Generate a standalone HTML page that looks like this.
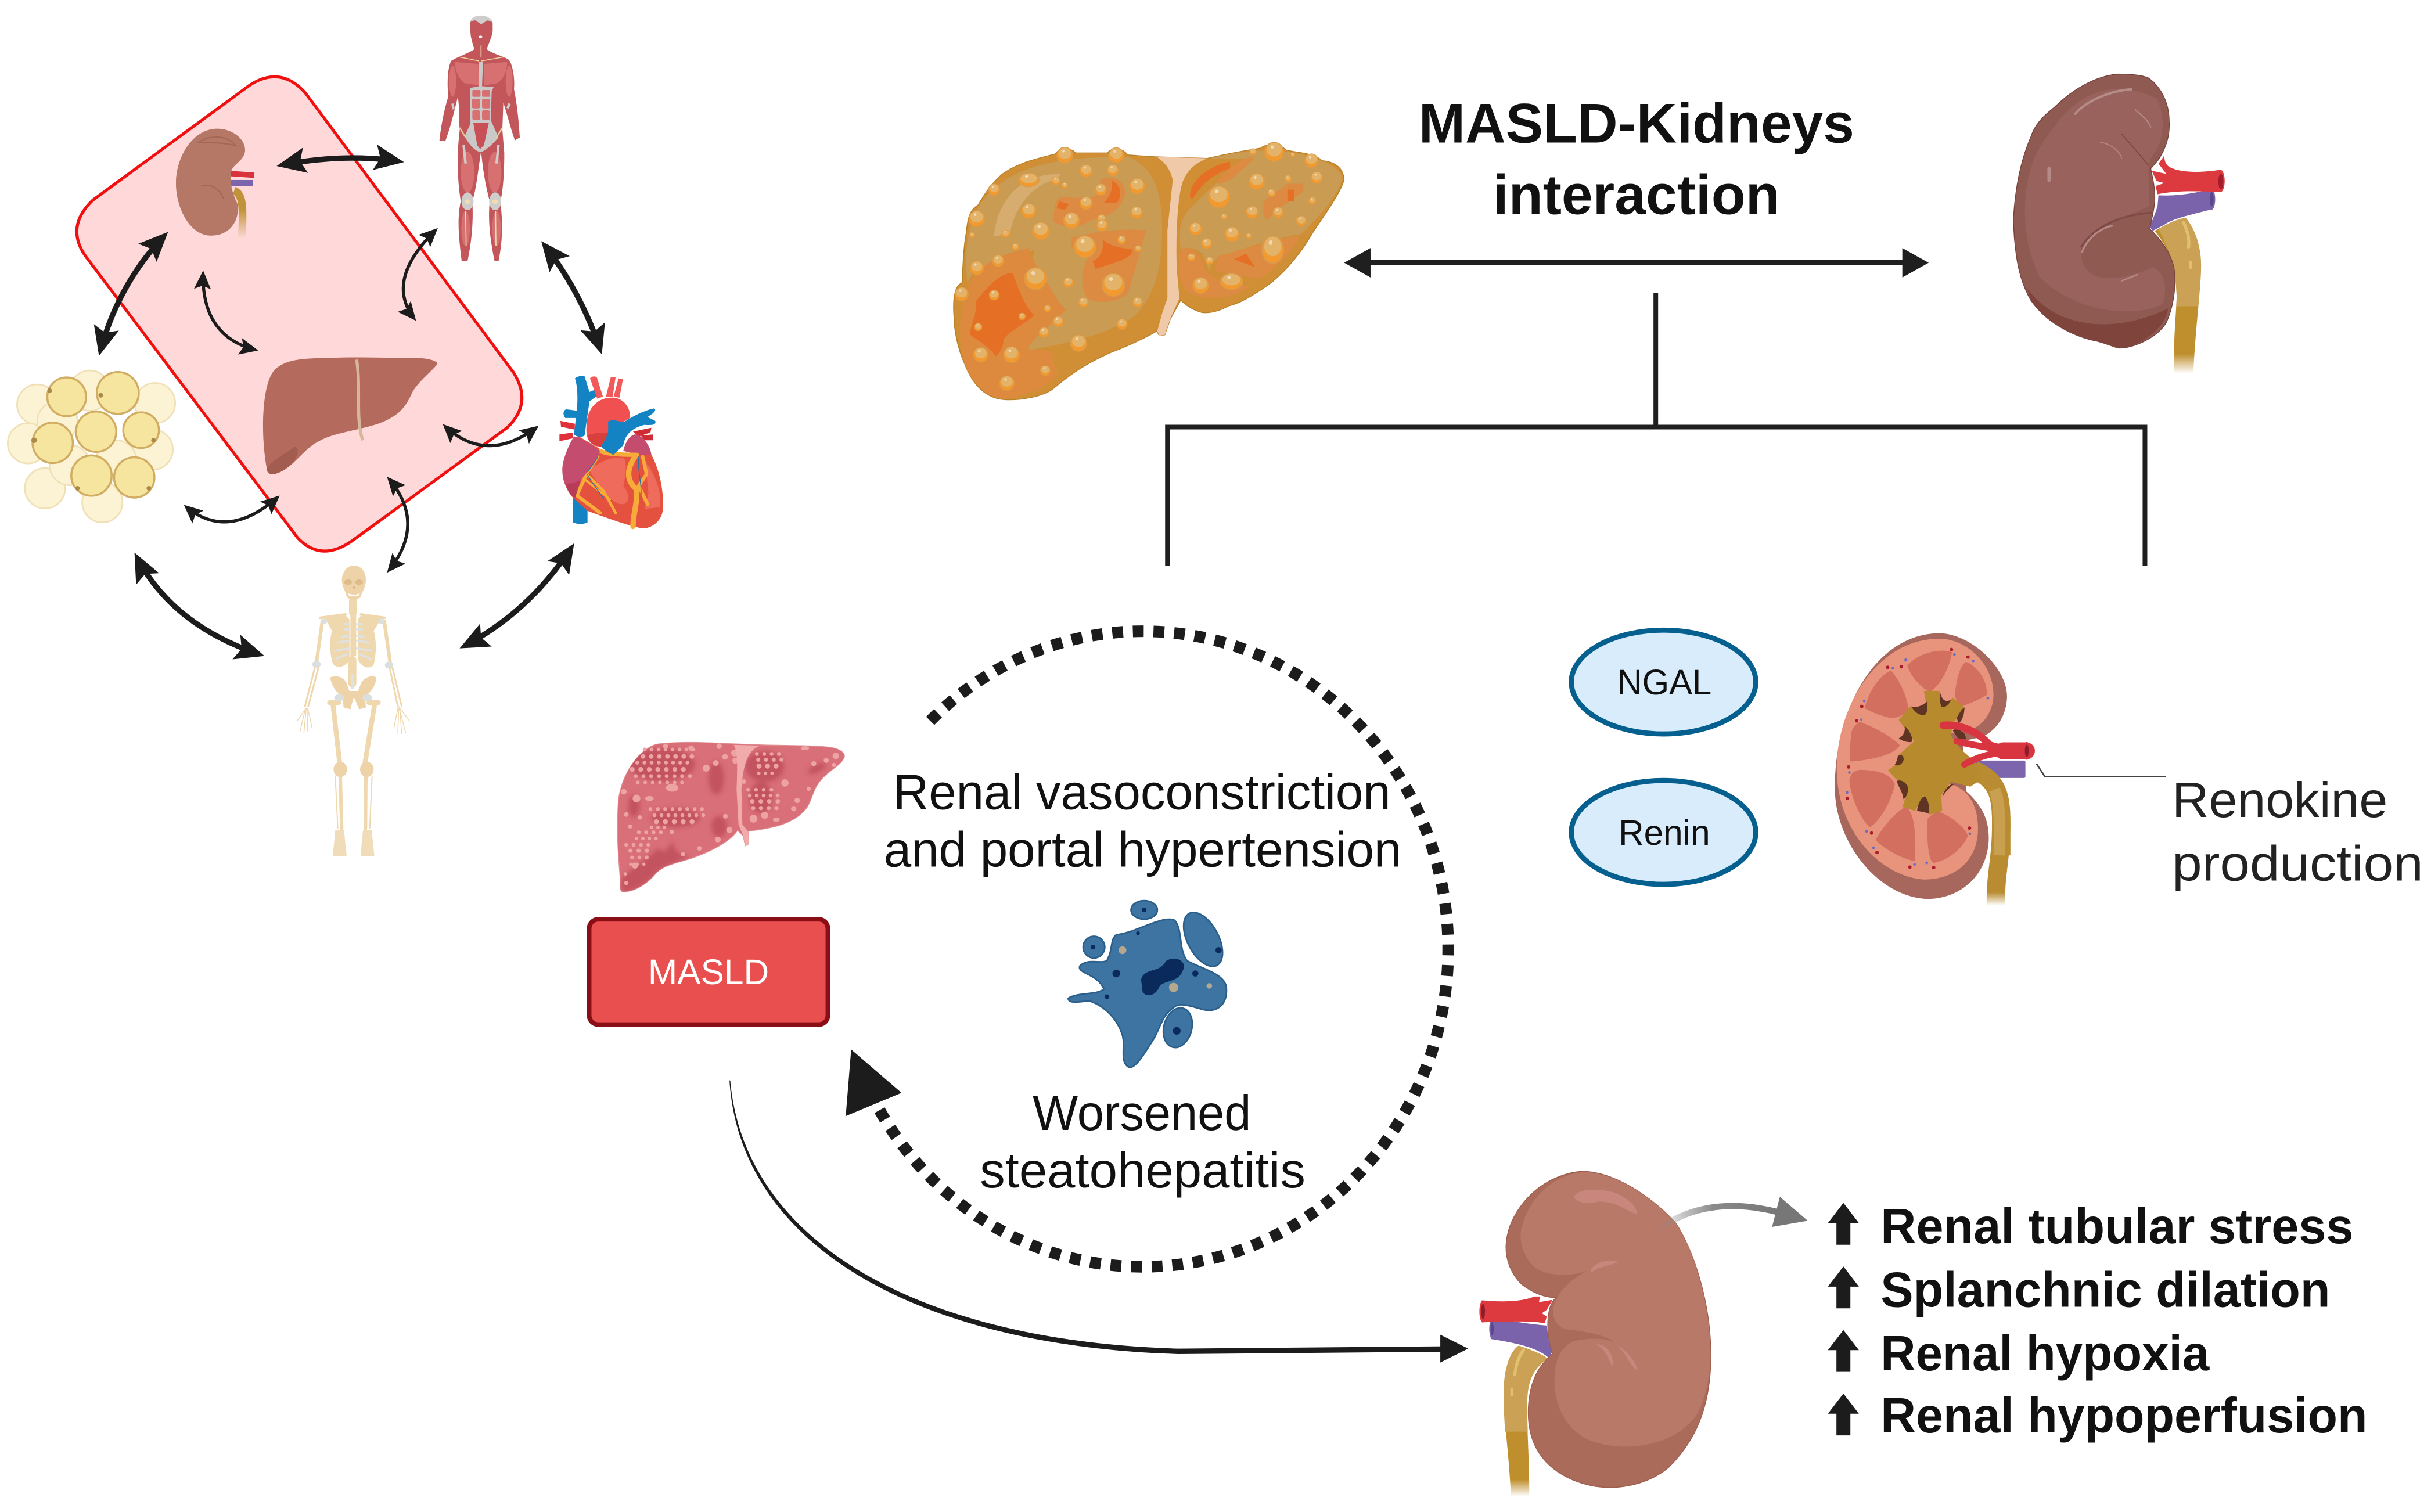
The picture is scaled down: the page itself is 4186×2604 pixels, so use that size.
<!DOCTYPE html>
<html><head><meta charset="utf-8"><title>MASLD-Kidneys interaction</title>
<style>
html,body{margin:0;padding:0;background:#fff}
svg{display:block}
text{font-family:"Liberation Sans",Arial,sans-serif;fill:#111}
.a{fill:none;stroke:#1c1c1c;stroke-dasharray:0 6 88 100}
.b{stroke-width:3.5;marker-start:url(#mb);marker-end:url(#mb)}
.s{stroke-width:2;marker-start:url(#ms);marker-end:url(#ms)}
.pale circle{fill:#fbf3d3;stroke:#efe0b6;stroke-width:1}
.yel circle{fill:#f6e59e;stroke:#d1ac63;stroke-width:1.3}
.py path{fill:#d26f5e}
</style></head><body>
<svg xmlns="http://www.w3.org/2000/svg" width="4186" height="2604" viewBox="0 0 1568 975.4">
<defs>
<marker id="mb" viewBox="0 0 16 16" refX="15.5" refY="8" markerWidth="19" markerHeight="19" markerUnits="userSpaceOnUse" orient="auto-start-reverse"><path d="M0,1 L16,8 L0,15 L3,8Z" fill="#1c1c1c"/></marker>
<marker id="ms" viewBox="0 0 11 11" refX="10.5" refY="5.5" markerWidth="12" markerHeight="12" markerUnits="userSpaceOnUse" orient="auto-start-reverse"><path d="M0,0.5 L11,5.5 L0,10.5 L2,5.5Z" fill="#1c1c1c"/></marker>
<linearGradient id="gr" gradientUnits="userSpaceOnUse" x1="1068" y1="794" x2="1145" y2="782"><stop offset="0" stop-color="#888" stop-opacity="0"/><stop offset=".5" stop-color="#8a8a8a"/><stop offset="1" stop-color="#777"/></linearGradient>
<linearGradient id="u1" gradientUnits="userSpaceOnUse" x1="0" y1="1200" x2="0" y2="1520"><stop offset="0" stop-color="#bf8f2e"/><stop offset=".7" stop-color="#bf8f2e"/><stop offset="1" stop-color="#bf8f2e" stop-opacity="0"/></linearGradient>
<linearGradient id="u2" gradientUnits="userSpaceOnUse" x1="0" y1="1200" x2="0" y2="1500"><stop offset="0" stop-color="#bf8f2e"/><stop offset=".75" stop-color="#bf8f2e"/><stop offset="1" stop-color="#bf8f2e" stop-opacity="0"/></linearGradient>
<linearGradient id="u3" gradientUnits="userSpaceOnUse" x1="0" y1="135" x2="0" y2="154"><stop offset="0" stop-color="#c0923a"/><stop offset="1" stop-color="#c0923a" stop-opacity="0"/></linearGradient>
<linearGradient id="u4" gradientUnits="userSpaceOnUse" x1="0" y1="1300" x2="0" y2="1530"><stop offset="0" stop-color="#b98c32"/><stop offset=".7" stop-color="#b98c32"/><stop offset="1" stop-color="#b98c32" stop-opacity="0"/></linearGradient>
<filter id="bl" x="-20%" y="-20%" width="140%" height="140%"><feGaussianBlur stdDeviation="12"/></filter>
<g id="bb"><g transform="scale(.85 1.17)"><circle r="50" fill="#f39a2e" stroke="#d99a4b" stroke-width="5"/><ellipse cy="-12" rx="40" ry="36" fill="#e2b369"/><circle cx="-10" cy="-26" r="9" fill="#f2d8b0"/></g></g>
</defs>

<!-- red rounded box -->
<path d="M60,129 L161,55 Q181,42 197,60 L331,240 Q344,260 327,276 L227,349 Q207,363 192,347 L55,165 Q42,146 60,129Z" fill="#ffd9d9" stroke="#f01010" stroke-width="1.9"/>

<!-- small kidney -->
<path d="M149,112 L164,113" stroke="#d8323d" stroke-width="3.500" fill="none"/>
<path d="M149,118 L163,118" stroke="#7c65ac" stroke-width="3.800" fill="none"/>
<path d="M151,123 C157,125 157,135 156,154" stroke="url(#u3)" stroke-width="5" fill="none"/>
<path d="M140,83 C150,83 159,90 158,98 C157,104 150,106 149,111 C148,118 150,125 153,131 C155,140 150,152 136,152 C122,152 113,133 113.500,117 C114,100 125,83 140,83Z" fill="#b57766"/>
<path d="M128,92 C136,86 148,88 152,94 C145,92 135,92 128,92Z M130,120 C136,118 142,122 144,128" stroke="#a66655" stroke-width=".8" fill="none"/>

<!-- small liver -->
<path d="M172,302 C168,280 169,250 176,240 C182,232 195,231 210,231 C230,230 250,231 270,231 C276,231 283,233 282,235 C278,240 270,246 266,253 C262,262 258,268 245,273 C230,278 215,279 205,285 C195,290 188,304 176,306 C173,306 172,304 172,302Z" fill="#b46b5d"/>
<path d="M230,232 C233,250 229,270 234,284" stroke="#d8b69a" stroke-width="2" fill="none"/>
<path d="M172,302 C176,296 186,292 190,288 C196,290 188,304 176,306 C173,306 172,304 172,302Z" fill="#a25c50"/>

<!-- muscle man -->
<g transform="translate(273.45,3.75) scale(.12486)">
<path d="M240,90 C240,50 350,50 355,90 L355,130 C350,170 330,200 325,225 C360,250 410,260 440,280 C460,310 470,380 465,430 C480,500 490,600 495,680 L470,695 C450,640 430,560 410,500 L405,640 L415,760 C415,850 410,950 395,1010 C405,1100 410,1200 385,1320 L365,1320 C340,1200 330,1100 340,1010 C310,900 300,800 295,750 C280,850 270,950 250,1010 C255,1100 250,1200 225,1320 L195,1320 C180,1200 170,1100 190,1010 C170,880 170,760 185,640 C180,600 185,530 175,470 C160,530 140,620 110,700 L80,695 C90,600 110,520 125,470 C120,400 120,330 140,285 C170,265 220,250 260,225 C255,200 240,170 240,130Z" fill="#c2565a"/>
<path d="M240,80 C250,40 340,40 355,85 L330,75 L295,95 L265,75Z" fill="#cfcccc"/>
<path d="M285,290 L305,290 L300,415 L360,420 L350,440 L345,590 L385,680 C340,730 310,755 290,755 C260,750 230,710 210,675 L240,610 L240,430 L235,425 L285,415Z" fill="#cbc8c8"/>
<g fill="#d87072"><rect x="248" y="480" width="42" height="50" rx="8"/><rect x="300" y="480" width="42" height="50" rx="8"/><rect x="250" y="540" width="40" height="50" rx="8"/><rect x="300" y="540" width="40" height="50" rx="8"/><rect x="250" y="435" width="42" height="35" rx="6"/><rect x="300" y="435" width="42" height="35" rx="6"/></g>
<path d="M255,605 L335,605 L310,720 L290,740 L275,720Z" fill="#c84f55"/>
<g fill="#d67071"><path d="M160,290 L280,300 L285,410 L210,400 C170,370 160,320 160,290Z"/><path d="M310,300 L430,290 C430,320 420,370 380,400 L310,410Z"/><ellipse cx="225" cy="860" rx="35" ry="105"/><ellipse cx="365" cy="860" rx="35" ry="105"/><ellipse cx="215" cy="1150" rx="22" ry="90"/><ellipse cx="375" cy="1150" rx="22" ry="90"/><ellipse cx="148" cy="390" rx="18" ry="80"/><ellipse cx="440" cy="390" rx="18" ry="80"/></g>
<path d="M185,265 L285,285 M295,285 L410,265" stroke="#eed09a" stroke-width="5" fill="none"/>
<path d="M185,630 L215,680 M405,630 L375,680" stroke="#eed09a" stroke-width="7" fill="none"/>
<path d="M205,720 L215,815 M385,720 L375,815 M148,505 L152,535 M442,505 L432,530" stroke="#cfcccc" stroke-width="13" fill="none"/>
<ellipse cx="225" cy="1010" rx="31" ry="46" fill="#cfcccc"/><ellipse cx="368" cy="1010" rx="31" ry="46" fill="#cfcccc"/>
<ellipse cx="225" cy="1012" rx="15" ry="12" fill="#f0dcae"/><ellipse cx="368" cy="1012" rx="15" ry="12" fill="#f0dcae"/>
<path d="M215,1060 L218,1240 M370,1060 L372,1240 M295,205 V265" stroke="#f0dcae" stroke-width="5" fill="none"/>
<ellipse cx="292" cy="160" rx="10" ry="6" fill="#fff"/>
</g>

<!-- fat -->
<g class="pale"><circle cx="24" cy="261" r="13"/><circle cx="58" cy="252" r="13"/><circle cx="100" cy="260" r="13"/><circle cx="18" cy="286" r="13"/><circle cx="98.500" cy="290" r="13"/><circle cx="29" cy="315" r="13"/><circle cx="66" cy="324" r="13"/><circle cx="45" cy="300" r="13"/><circle cx="37" cy="272" r="13"/><circle cx="75" cy="297" r="13"/></g>
<g class="yel"><circle cx="43" cy="256" r="12.500"/><circle cx="76" cy="253.500" r="13.500"/><circle cx="62" cy="278.500" r="13"/><circle cx="91" cy="277.500" r="11.500"/><circle cx="34" cy="285.700" r="13"/><circle cx="59" cy="306.800" r="13"/><circle cx="86.600" cy="308" r="13"/></g>
<g fill="#a98a4a"><circle cx="22" cy="284" r="1.800"/><circle cx="32" cy="252" r="1.500"/><circle cx="65" cy="255" r="1.500"/><circle cx="99" cy="284" r="1.500"/><circle cx="50" cy="315" r="1.500"/><circle cx="96" cy="315" r="1.500"/></g>

<!-- heart -->
<g transform="translate(352.1,232.2) scale(.12486)">
<path d="M140,700 h75 v140 q-35,15 -75,0Z" fill="#1483c4"/>
<path d="M150,95 C170,80 195,80 200,85 L225,165 L250,155 L265,185 L225,215 L200,390 C190,400 160,400 145,385 L155,300 L100,300 C85,280 90,260 105,255 L160,262 C165,200 165,140 150,95Z" fill="#1483c4"/>
<g fill="#e0313a"><path d="M75,315 L150,330 L148,360 L78,345Z"/><path d="M70,385 L140,375 L140,405 L70,420Z"/></g>
<g fill="#f2595a"><path d="M228,95 C240,80 265,85 265,95 L295,190 L265,200Z"/><path d="M335,90 L360,90 L345,190 L310,190Z"/><path d="M375,95 L398,100 L380,195 L350,190Z"/></g>
<g fill="#d02c34"><path d="M450,370 L545,350 L540,375 L480,395Z"/><path d="M490,390 L555,385 L555,415 L510,415Z"/></g>
<path d="M210,340 C210,250 270,190 350,195 C410,200 440,260 435,300 L350,350 L320,380 L300,450 L260,445 C220,430 205,400 210,340Z" fill="#f0504f"/>
<path d="M215,390 C240,380 290,370 320,380 L300,450 L260,445 C235,435 220,420 215,390Z" fill="#d8403d"/>
<path d="M400,470 C410,420 440,380 470,385 C510,400 540,450 545,490 L500,495 L440,480Z" fill="#c44d6f"/>
<path d="M85,560 C90,490 130,420 170,395 L280,460 L350,490 L500,490 L545,490 C590,570 610,690 605,770 C600,830 550,870 500,870 C430,860 300,810 215,780 L150,720 C110,690 85,620 85,560Z" fill="#e4513f"/>
<path d="M225,570 C280,520 370,490 405,510 C420,540 410,610 400,650 C430,690 440,730 400,745 C360,750 330,710 300,680 C270,640 240,600 225,570Z" fill="#ef6c5c"/>
<path d="M515,530 C560,580 600,680 590,760 L510,770 L530,690 L520,590Z" fill="#ef6c5c"/>
<g fill="none" stroke="#f7ac3a" stroke-linecap="round"><path d="M280,470 C300,480 330,490 470,490" stroke-width="22"/><path d="M270,500 L210,590 L300,680 L360,790" stroke-width="14"/><path d="M205,600 L160,700 L280,790" stroke-width="18"/><path d="M205,620 L330,720" stroke-width="12"/><path d="M460,500 C420,560 410,620 470,670 C470,760 450,800 450,860" stroke-width="28"/><path d="M500,500 L520,590 L480,650 L525,745" stroke-width="18"/></g>
<path d="M85,570 C90,490 130,420 145,395 C180,400 240,440 280,470 C260,540 200,590 180,620 L150,715 C110,680 85,630 85,570Z" fill="#c44d6f"/>
<path d="M105,640 C130,640 160,630 180,620 L150,715 C125,695 110,670 105,640Z" fill="#b83c58"/>
<path d="M215,590 C220,610 260,660 300,720 M480,500 C470,560 500,650 490,720 M270,500 L215,580" stroke="#2e6fa8" stroke-width="4" fill="none"/>
<path d="M320,320 C345,300 370,320 405,320 C450,290 510,260 560,250 C570,260 565,270 525,295 L565,315 C570,330 560,340 510,335 C450,350 410,380 400,440 L350,490 C320,480 295,460 285,445 C300,420 330,390 320,320Z" fill="#1483c4"/>
</g>

<!-- skeleton -->
<g transform="translate(179.8,359.6) scale(.12486)">
<g fill="none" stroke="#efd7ae" stroke-linecap="round">
<path d="M383,225 V285" stroke-width="40" stroke-dasharray="12 6"/>
<path d="M380,530 V650" stroke-width="42" stroke-dasharray="16 6"/>
<path d="M215,312 L345,295 M425,295 L545,312" stroke-width="14"/>
<path d="M225,330 L195,540 M545,330 L575,540" stroke-width="18"/>
<path d="M190,555 L135,770 M205,570 L152,770 M570,555 L615,770 M585,560 L635,770" stroke-width="9"/>
<path d="M140,780 L95,845 M138,780 L110,900 M142,780 L130,905 M146,780 L150,900 M150,780 L172,880 M620,770 L675,845 M622,775 L655,905 M625,780 L635,910 M620,780 L615,905 M615,780 L595,880" stroke-width="4.500"/>
<path d="M280,760 L315,1065 M495,760 L445,1065" stroke-width="25"/>
<path d="M318,1130 L325,1400 M450,1130 L448,1400" stroke-width="18"/>
<path d="M292,1130 L305,1400 M482,1130 L470,1400" stroke-width="6"/>
<path d="M262,750 L310,750 M465,750 L515,750" stroke-width="24"/>
</g>
<path d="M388,42 C430,42 452,80 450,120 C448,160 430,175 425,200 C415,225 360,225 350,200 C345,170 328,160 326,120 C325,80 350,42 388,42Z" fill="#eed3a8"/>
<g fill="#ddbb8a"><ellipse cx="358" cy="128" rx="20" ry="14"/><ellipse cx="415" cy="128" rx="20" ry="14"/><ellipse cx="388" cy="155" rx="6" ry="8"/></g>
<path d="M355,185 C380,195 400,195 420,185 L410,200 L365,200Z" fill="#fff"/>
<path d="M240,315 L345,300 L365,320 L365,530 C340,570 300,575 280,550 C262,500 262,420 275,380Z" fill="#efd7ae"/>
<path d="M530,315 L425,300 L410,320 L410,530 C430,570 470,580 490,555 C505,500 505,420 490,380Z" fill="#efd7ae"/>
<path d="M370,300 h30 v210 h-30Z" fill="#efd7ae"/>
<g fill="none" stroke="#dfe2e2" stroke-width="11" stroke-linecap="round"><path d="M340,345 L365,345 M340,372 L365,372 M328,410 L365,405 M305,440 L365,430 M290,482 L365,470 M295,525 L350,500 M430,345 L405,345 M430,372 L405,372 M442,410 L405,405 M465,440 L405,430 M480,482 L405,470 M475,525 L420,500"/></g>
<path d="M265,620 C300,605 340,620 350,650 L365,690 L410,690 L425,650 C440,620 480,605 505,620 C500,670 470,700 445,720 L450,775 L415,785 L388,720 L370,785 L335,775 L330,720 C300,700 275,670 265,620Z" fill="#eed3a8"/>
<path d="M380,600 V680" stroke="#dfe2e2" stroke-width="14"/>
<g fill="#dcdfe0"><ellipse cx="312" cy="725" rx="25" ry="18"/><ellipse cx="458" cy="725" rx="25" ry="18"/><ellipse cx="195" cy="552" rx="22" ry="18"/><ellipse cx="570" cy="556" rx="22" ry="18"/><ellipse cx="235" cy="330" rx="16" ry="14"/><ellipse cx="530" cy="330" rx="16" ry="14"/></g>
<g fill="#eed3a8"><ellipse cx="318" cy="1095" rx="35" ry="40"/><ellipse cx="455" cy="1095" rx="35" ry="40"/></g>
<g fill="#efd7ae" opacity=".85"><path d="M292,1410 h45 l14,135 h-72Z"/><path d="M435,1410 h45 l14,135 h-72Z"/></g>
</g>

<!-- arrows left -->
<path class="a b" pathLength="100" d="M179,107 Q222.500,98.250 260,104.500"/>
<path class="a b" pathLength="100" d="M108,150 Q76,182.500 64,229"/>
<path class="a b" pathLength="100" d="M349.500,156 Q375,188 388,228"/>
<path class="a b" pathLength="100" d="M370,351 Q341.500,395.500 297,418"/>
<path class="a b" pathLength="100" d="M87,357 Q110.500,404 170,423"/>
<path class="a s" pathLength="100" d="M131,175 Q129.500,217.500 166,226"/>
<path class="a s" pathLength="100" d="M282,147.500 Q247,181 268,206.500"/>
<path class="a s" pathLength="100" d="M286,274 Q313.500,300.500 347,275"/>
<path class="a s" pathLength="100" d="M119,326 Q146.500,350 180,320"/>
<path class="a s" pathLength="100" d="M250,308 Q276,337.500 250,369"/>

<!-- fatty liver -->
<g transform="translate(606.8,86.15) scale(.172,.12486)">
<path d="M240,1375 C170,1370 120,1300 90,1190 C60,1100 50,1000 50,950 C45,860 50,790 80,770 C85,650 85,600 95,520 C100,470 100,400 140,370 C170,300 190,260 230,210 C290,150 360,130 430,105 C440,75 490,70 505,100 C570,100 620,100 625,100 C640,70 680,70 700,110 C750,115 800,120 810,120 L1000,128 C1070,105 1130,90 1200,75 C1220,50 1270,50 1295,85 C1340,100 1400,100 1430,140 C1480,145 1510,180 1512,240 C1500,300 1450,400 1400,500 C1350,620 1300,700 1240,770 C1180,830 1120,880 1080,890 C1050,915 1010,930 980,925 C950,915 920,890 900,860 L860,960 L840,1040 L820,1045 L810,1020 C790,1040 700,1100 640,1130 C540,1190 480,1250 420,1320 C380,1360 300,1380 240,1375Z" fill="#d08f35" stroke="#b98027" stroke-width="4"/>
<path d="M150,360 C250,180 400,120 700,120 C800,170 830,300 830,500 C830,700 800,850 720,950 C600,1050 480,1080 330,1120 C330,1000 420,900 460,900 C400,800 330,700 350,600 C300,640 200,640 120,720 L100,770 C90,650 90,500 150,360Z" fill="#c99b53"/>
<path d="M200,530 C210,350 300,200 450,210 L430,240 C340,260 270,400 260,520Z" fill="#d9b277" opacity=".8"/>
<path d="M100,800 C150,650 250,620 330,590 L340,650 C380,700 420,850 470,910 C420,980 350,1050 320,1120 C420,1110 430,1130 420,1180 L440,1240 C400,1300 350,1350 240,1370 C170,1360 120,1300 90,1190 C70,1100 60,950 100,800Z" fill="#dd8a3f"/>
<path d="M130,870 C170,800 220,720 270,720 C290,800 310,880 350,940 C300,1000 230,1040 235,1080 C230,1120 210,1150 205,1150 C180,1100 140,1070 110,1040 C110,990 140,920 130,870Z" fill="#e56f25"/>
<path d="M490,540 C580,500 700,490 770,500 C750,600 730,700 700,830 C650,880 580,880 550,850 C520,790 530,700 550,640 C510,620 480,590 490,540Z" fill="#dd8a42"/>
<path d="M610,550 C640,590 690,590 720,600 C720,650 640,670 580,700 L570,660 C600,640 610,600 610,550Z" fill="#e56f25"/>
<path d="M600,240 C650,200 700,260 690,320 C680,380 640,430 560,450 C520,490 450,490 420,450 C430,400 420,350 450,330 C500,330 560,340 580,320 C600,300 590,270 600,240Z" fill="#dd8a42"/>
<path d="M640,240 C680,270 680,320 660,360 L610,360 C630,330 650,290 640,240Z M445,350 l35,15 l-15,30 l-30,-10Z" fill="#e56f25"/>
<path d="M1010,130 C1080,100 1200,80 1280,90 C1400,110 1500,170 1505,230 C1490,320 1420,430 1350,520 C1300,530 1180,570 1080,620 C1030,640 1000,680 1010,720 L980,620 C950,580 910,590 900,600 C890,500 900,430 940,380 C1000,300 1030,240 1180,130Z" fill="#c99b53"/>
<path d="M935,330 C930,260 990,170 1085,145 L1085,180 C1020,210 970,270 945,340Z" fill="#e56f25"/>
<path d="M1040,240 C1090,170 1120,130 1170,120 L1160,150 C1110,210 1090,250 1040,260Z" fill="#dd8a42"/>
<path d="M1040,630 C1100,620 1200,560 1345,530 C1320,600 1260,700 1190,750 L1030,710Z" fill="#dd8a42"/>
<path d="M1100,650 L1145,620 L1178,690Z" fill="#e56f25"/>
<path d="M1210,350 L1300,260 L1360,260 L1360,300 L1310,350 L1260,390 L1225,450 L1210,420Z" fill="#dd8a42"/>
<path d="M1300,290 l25,0 l0,60 l-25,0Z" fill="#e56f25"/>
<path d="M900,600 C940,570 980,620 990,700 C1020,770 1120,800 1170,780 C1100,860 1000,860 940,830 C900,800 880,700 900,600Z" fill="#dd8a42"/>
<path d="M810,120 L1000,128 C960,150 930,180 910,240 C890,300 880,500 885,700 L895,850 L860,960 L840,1040 L820,1045 L812,1020 L830,930 L850,850 L850,500 L870,240 C860,180 840,150 810,120Z" fill="#f0c9a8"/>
<use href="#bb" transform="translate(465 112) scale(.7)"/><use href="#bb" transform="translate(658 112) scale(.66)"/><use href="#bb" transform="translate(135 440) scale(.7)"/><use href="#bb" transform="translate(78 830) scale(.6)"/><use href="#bb" transform="translate(200 290) scale(.5)"/><use href="#bb" transform="translate(1250 95) scale(.84)"/><use href="#bb" transform="translate(1390 140) scale(.6)"/><use href="#bb" transform="translate(1170 95) scale(.3)"/><use href="#bb" transform="translate(330 240) scale(.9 .6)"/><use href="#bb" transform="translate(432 245) scale(.36)"/><use href="#bb" transform="translate(465 268) scale(.26)"/><use href="#bb" transform="translate(545 193) scale(.56)"/><use href="#bb" transform="translate(645 190) scale(.5)"/><use href="#bb" transform="translate(737 272) scale(.68)"/><use href="#bb" transform="translate(600 290) scale(.5)"/><use href="#bb" transform="translate(330 400) scale(.64)"/><use href="#bb" transform="translate(375 503) scale(.76)"/><use href="#bb" transform="translate(490 450) scale(.7)"/><use href="#bb" transform="translate(545 360) scale(.56)"/><use href="#bb" transform="translate(603 440) scale(.36)"/><use href="#bb" transform="translate(605 475) scale(.5)"/><use href="#bb" transform="translate(735 408) scale(.52)"/><use href="#bb" transform="translate(540 585) scale(.96)"/><use href="#bb" transform="translate(678 550) scale(.36)"/><use href="#bb" transform="translate(740 595) scale(.28)"/><use href="#bb" transform="translate(215 658) scale(.5)"/><use href="#bb" transform="translate(135 695) scale(.6)"/><use href="#bb" transform="translate(355 750) scale(.96)"/><use href="#bb" transform="translate(478 770) scale(.44)"/><use href="#bb" transform="translate(647 782) scale(1)"/><use href="#bb" transform="translate(535 873) scale(.44)"/><use href="#bb" transform="translate(738 872) scale(.44)"/><use href="#bb" transform="translate(200 835) scale(.44)"/><use href="#bb" transform="translate(243 518) scale(.34)"/><use href="#bb" transform="translate(280 585) scale(.3)"/><use href="#bb" transform="translate(400 905) scale(.3)"/><use href="#bb" transform="translate(305 945) scale(.3)"/><use href="#bb" transform="translate(140 1000) scale(.34)"/><use href="#bb" transform="translate(440 972) scale(.46)"/><use href="#bb" transform="translate(387 1028) scale(.44)"/><use href="#bb" transform="translate(680 985) scale(.46)"/><use href="#bb" transform="translate(517 1083) scale(.72)"/><use href="#bb" transform="translate(150 1143) scale(.64)"/><use href="#bb" transform="translate(265 1143) scale(.7)"/><use href="#bb" transform="translate(392 1225) scale(.44)"/><use href="#bb" transform="translate(248 1290) scale(.64)"/><use href="#bb" transform="translate(118 525) scale(.24)"/><use href="#bb" transform="translate(1043 328) scale(.96)"/><use href="#bb" transform="translate(1185 248) scale(.7)"/><use href="#bb" transform="translate(1302 233) scale(.3)"/><use href="#bb" transform="translate(1410 228) scale(.52)"/><use href="#bb" transform="translate(1393 348) scale(.32)"/><use href="#bb" transform="translate(1240 307) scale(.34)"/><use href="#bb" transform="translate(1168 407) scale(.54)"/><use href="#bb" transform="translate(1265 408) scale(.46)"/><use href="#bb" transform="translate(1062 430) scale(.26)"/><use href="#bb" transform="translate(1352 452) scale(.44)"/><use href="#bb" transform="translate(955 493) scale(.56)"/><use href="#bb" transform="translate(1092 520) scale(.64)"/><use href="#bb" transform="translate(997 568) scale(.46)"/><use href="#bb" transform="translate(1155 530) scale(.24)"/><use href="#bb" transform="translate(1245 600) scale(.95 1.2)"/><use href="#bb" transform="translate(1008 658) scale(.34)"/><use href="#bb" transform="translate(940 640) scale(.34)"/><use href="#bb" transform="translate(975 785) scale(.7)"/><use href="#bb" transform="translate(1090 765) scale(1 .7)"/><use href="#bb" transform="translate(1320 110) scale(.2)"/>
</g>

<!-- title -->
<text x="915" y="92" font-size="36" font-weight="700" textLength="281" lengthAdjust="spacingAndGlyphs">MASLD-Kidneys</text>
<text x="963" y="138" font-size="36" font-weight="700" textLength="185" lengthAdjust="spacingAndGlyphs">interaction</text>

<!-- connector -->
<path d="M878,169.500 H1233" stroke="#1f1f1f" stroke-width="3.400"/>
<path d="M867,169.500 L884,160 V179Z M1244,169.500 L1227,160 V179Z" fill="#1f1f1f"/>
<path d="M1068,189 V275 M753,365 V275.500 H1383.500 V365" stroke="#1f1f1f" stroke-width="3" fill="none"/>

<!-- dark kidney -->
<g transform="translate(1288.6,41.2) scale(.12486,.1314)">
<path d="M810,820 C870,790 900,770 970,755 C1020,810 1050,900 1050,990 C1050,1100 1020,1300 1010,1520 L910,1520 C905,1350 925,1200 925,1100 C925,1000 880,900 810,820Z" fill="url(#u1)"/>
<path d="M830,810 C870,790 900,770 970,755 C1020,810 1050,900 1050,990 C1050,1060 1040,1120 1035,1190 L925,1190 C925,1000 880,900 830,810Z" fill="#cba255"/>
<path d="M960,780 C985,830 990,870 985,900 M995,975 V1000" stroke="#e2bf6e" stroke-width="16" fill="none" stroke-linecap="round"/>
<path d="M830,645 C900,650 1000,640 1100,615 L1100,715 C1000,740 900,760 860,790 L800,820 L785,800 L810,740 L825,700Z" fill="#7a63ab"/>
<ellipse cx="1103" cy="665" rx="20" ry="52" fill="#7a63ab"/><ellipse cx="1105" cy="665" rx="10" ry="35" fill="#5a468a"/>
<path d="M860,450 L830,490 L870,540 L795,525 L820,575 L860,585 L815,600 L825,640 C930,620 1040,625 1150,630 L1150,520 C1050,535 950,535 895,510 C870,500 860,480 860,450Z" fill="#dd3a40"/>
<ellipse cx="1150" cy="575" rx="22" ry="55" fill="#dd3a40"/><ellipse cx="1152" cy="578" rx="13" ry="38" fill="#a51d2a"/>
<path d="M620,50 C680,50 750,55 780,70 C850,120 885,200 885,280 C890,350 870,410 830,470 L790,515 C800,560 815,620 810,680 C805,730 790,780 785,810 C840,860 890,920 910,1000 C925,1090 905,1200 870,1270 C830,1340 700,1400 620,1395 C570,1380 540,1365 480,1355 C380,1330 250,1270 170,1160 C110,1060 95,960 85,850 L80,770 C90,600 120,470 170,360 C190,300 230,260 290,215 C380,130 500,60 620,50Z" fill="#8f5a52" stroke="#75403a" stroke-width="4"/>
<path d="M300,300 C450,100 650,90 820,170 C870,260 860,380 800,450 C760,500 790,600 780,700 C650,760 500,780 430,900 C420,1050 550,1100 800,1000 C860,1020 880,1100 850,1180 C700,1250 400,1220 220,1050 C130,900 110,650 190,460 C220,400 260,340 300,300Z" fill="#99625c"/>
<path d="M150,1100 C300,1300 600,1330 880,1200 C860,1320 700,1400 620,1395 C570,1380 540,1365 480,1355 C380,1330 250,1270 170,1160Z" fill="#7f453c"/>
<g fill="none" stroke="#b58b87" stroke-linecap="round"><path d="M400,245 C470,170 600,130 690,125" stroke-width="12"/><path d="M530,385 C590,395 630,430 640,465" stroke-width="5"/><path d="M265,515 L265,570" stroke-width="18"/><path d="M590,795 C520,810 460,860 435,925" stroke-width="9"/><path d="M640,1065 L720,1035" stroke-width="7"/><path d="M710,225 C740,250 780,280 790,310" stroke-width="6"/></g>
<path d="M640,345 C680,390 730,440 780,500" stroke="#78423b" stroke-width="4" fill="none"/>
<path d="M430,900 C500,790 650,740 800,730" stroke="#7f4a43" stroke-width="9" fill="none"/>
</g>

<!-- cycle -->
<path d="M600,465 A197,205 0 1 1 565,712" fill="none" stroke="#1c1c1c" stroke-width="7.500" stroke-dasharray="7 6.300"/>
<path d="M549,677 L581.500,705 L545.500,720Z" fill="#1c1c1c"/>
<text x="576" y="522" font-size="32" textLength="321" lengthAdjust="spacingAndGlyphs">Renal vasoconstriction</text>
<text x="570" y="559" font-size="32" textLength="334" lengthAdjust="spacingAndGlyphs">and portal hypertension</text>
<text x="666" y="729" font-size="32" textLength="141" lengthAdjust="spacingAndGlyphs">Worsened</text>
<text x="632" y="766" font-size="32" textLength="210" lengthAdjust="spacingAndGlyphs">steatohepatitis</text>

<!-- pink liver -->
<g transform="translate(393.3,472) scale(.12486)">
<clipPath id="plc"><path d="M240,65 C350,50 480,55 620,62 L780,68 C900,72 1050,70 1130,80 C1180,85 1215,105 1212,130 C1200,170 1140,195 1100,240 C1050,290 1050,340 1020,390 C970,460 880,490 780,505 L715,515 L718,580 L700,590 L690,540 L660,510 C620,570 520,620 420,655 C340,680 280,690 240,730 C190,790 130,825 70,828 C50,825 52,800 55,770 C40,600 35,500 45,350 C60,250 100,180 150,125 C180,95 210,75 240,65Z"/></clipPath>
<path d="M240,65 C350,50 480,55 620,62 L780,68 C900,72 1050,70 1130,80 C1180,85 1215,105 1212,130 C1200,170 1140,195 1100,240 C1050,290 1050,340 1020,390 C970,460 880,490 780,505 L715,515 L718,580 L700,590 L690,540 L660,510 C620,570 520,620 420,655 C340,680 280,690 240,730 C190,790 130,825 70,828 C50,825 52,800 55,770 C40,600 35,500 45,350 C60,250 100,180 150,125 C180,95 210,75 240,65Z" fill="#d96f78" stroke="#e08d92" stroke-width="4"/>
<g clip-path="url(#plc)"><g fill="#c2525e" filter="url(#bl)"><path d="M60,760 C120,700 220,640 250,600 C280,640 310,600 320,560 C340,620 350,640 420,640 C340,680 280,690 240,730 C190,790 130,825 70,828 C60,810 55,790 60,760Z"/><ellipse cx="270" cy="170" rx="170" ry="85"/><ellipse cx="340" cy="445" rx="125" ry="50"/><ellipse cx="800" cy="180" rx="100" ry="80"/><ellipse cx="780" cy="340" rx="60" ry="80"/><ellipse cx="125" cy="385" rx="30" ry="55"/><ellipse cx="550" cy="240" rx="40" ry="85"/><ellipse cx="565" cy="490" rx="40" ry="55"/><ellipse cx="1070" cy="190" rx="50" ry="20" transform="rotate(-25 1070 190)"/></g></g>
<g fill="none" stroke="#eda3a3" stroke-linecap="round">
<path d="M180,92 H440" stroke-width="20" stroke-dasharray="0 36"/>
<path d="M150,128 H440" stroke-width="24" stroke-dasharray="0 42" stroke-dashoffset="20"/>
<path d="M115,160 H430" stroke-width="20" stroke-dasharray="0 37" stroke-dashoffset="10"/>
<path d="M100,195 H420" stroke-width="25" stroke-dasharray="0 44" stroke-dashoffset="28"/>
<path d="M100,230 H450" stroke-width="21" stroke-dasharray="0 40" stroke-dashoffset="6"/>
<path d="M125,262 H400" stroke-width="19" stroke-dasharray="0 38" stroke-dashoffset="18"/>
<path d="M210,400 H480" stroke-width="20" stroke-dasharray="0 38"/>
<path d="M215,432 H500" stroke-width="20" stroke-dasharray="0 36" stroke-dashoffset="20"/>
<path d="M205,465 H470" stroke-width="26" stroke-dasharray="0 46" stroke-dashoffset="10"/>
<path d="M215,495 H290" stroke-width="18" stroke-dasharray="0 34"/>
<path d="M150,520 H270" stroke-width="20" stroke-dasharray="0 38"/>
<path d="M115,552 H240" stroke-width="18" stroke-dasharray="0 34" stroke-dashoffset="12"/>
<path d="M85,585 H220" stroke-width="20" stroke-dasharray="0 38"/>
<path d="M85,615 H225" stroke-width="22" stroke-dasharray="0 42" stroke-dashoffset="20"/>
<path d="M85,650 H220" stroke-width="20" stroke-dasharray="0 38" stroke-dashoffset="8"/>
<path d="M90,685 H210" stroke-width="17" stroke-dasharray="0 34" stroke-dashoffset="16"/>
<path d="M760,115 H900" stroke-width="20" stroke-dasharray="0 38"/>
<path d="M745,145 H920" stroke-width="21" stroke-dasharray="0 40" stroke-dashoffset="18"/>
<path d="M735,178 H900" stroke-width="26" stroke-dasharray="0 44" stroke-dashoffset="8"/>
<path d="M750,215 H860" stroke-width="18" stroke-dasharray="0 34" stroke-dashoffset="14"/>
<path d="M715,300 H860" stroke-width="20" stroke-dasharray="0 40"/>
<path d="M705,330 H880" stroke-width="20" stroke-dasharray="0 36" stroke-dashoffset="18"/>
<path d="M700,360 H880" stroke-width="24" stroke-dasharray="0 44" stroke-dashoffset="8"/>
<path d="M725,395 H880" stroke-width="22" stroke-dasharray="0 40" stroke-dashoffset="24"/>
</g>
<g fill="#eda3a3"><circle cx="498" cy="188" r="18"/><circle cx="548" cy="162" r="15"/><circle cx="595" cy="130" r="15"/><circle cx="645" cy="110" r="18"/><circle cx="648" cy="150" r="15"/><ellipse cx="322" cy="290" rx="32" ry="20"/><ellipse cx="205" cy="345" rx="22" ry="13"/><circle cx="138" cy="345" r="20"/><circle cx="72" cy="310" r="15"/><circle cx="85" cy="428" r="12"/><circle cx="155" cy="443" r="11"/><circle cx="105" cy="490" r="11"/><circle cx="597" cy="437" r="12"/><circle cx="618" cy="508" r="16"/><circle cx="558" cy="557" r="15"/><circle cx="463" cy="603" r="12"/><circle cx="378" cy="633" r="11"/><circle cx="320" cy="518" r="11"/><circle cx="692" cy="258" r="12"/><circle cx="905" cy="265" r="19"/><circle cx="1168" cy="125" r="17"/><circle cx="1118" cy="148" r="13"/><circle cx="1054" cy="165" r="13"/><circle cx="1158" cy="172" r="11"/><ellipse cx="1008" cy="85" rx="22" ry="11"/><circle cx="968" cy="355" r="14"/><circle cx="950" cy="398" r="14"/><circle cx="1028" cy="295" r="11"/><circle cx="742" cy="450" r="20"/><circle cx="800" cy="432" r="18"/><ellipse cx="860" cy="455" rx="18" ry="11"/><circle cx="420" cy="85" r="14"/><circle cx="565" cy="75" r="14"/><circle cx="288" cy="75" r="13"/><circle cx="85" cy="782" r="11"/><circle cx="80" cy="735" r="9"/><circle cx="130" cy="692" r="16"/></g>
<path d="M640,68 L780,72 C720,90 690,150 680,300 L685,480 L715,515 L718,580 L700,590 L690,540 L665,480 L655,300 C660,170 660,100 640,68Z" fill="#f2abab"/>
</g>

<!-- MASLD -->
<rect x="380" y="593" width="154" height="68" rx="6" fill="#e94f4f" stroke="#8a0e15" stroke-width="3"/>
<text x="418" y="635" font-size="23" style="fill:#fff" textLength="78" lengthAdjust="spacingAndGlyphs">MASLD</text>

<!-- cell -->
<path d="M689,644 C695,640 708,642 712,638 C708,628 694,628 696.600,623 C702,618 710,622 714,619.700 C718,612 716,606 720,603 C732,602 750,590 757.700,593.700 C763,600 760,612 765.600,619.700 C775,625 790,628 791,637 C792,648 785,654 775,651 C765,648 760,647 757,650 C749,655 748,665 743,672 C738,680 732,690 728,688.400 C722,685 726,675 724,668 C720,655 710,648 702.500,645.700 C697,646 689,648 689,644Z" fill="#3e74a2" stroke="#2b5f8b" stroke-width="1"/>
<ellipse cx="738" cy="587" rx="8.500" ry="6" fill="#3e74a2" stroke="#2b5f8b"/>
<circle cx="705.600" cy="611" r="7" fill="#3e74a2" stroke="#2b5f8b"/>
<ellipse cx="776" cy="606" rx="10" ry="19" transform="rotate(-28 776 606)" fill="#3e74a2" stroke="#2b5f8b"/>
<ellipse cx="759.700" cy="663" rx="9" ry="13" transform="rotate(15 759.700 663)" fill="#3e74a2" stroke="#2b5f8b"/>
<path d="M736,632 C738,624 748,628 752,620 C758,616 766,620 763,626 C760,634 752,632 748,636 C746,642 740,644 737,640Z" fill="#0b2a5c"/>
<g fill="#0b2a5c"><circle cx="738" cy="587" r="1.500"/><circle cx="705" cy="611" r="1.500"/><circle cx="786" cy="613" r="2"/><circle cx="759" cy="665" r="2.500"/><circle cx="720" cy="628" r="2.500"/><circle cx="714" cy="643" r="1.500"/><circle cx="771" cy="628" r="2"/><circle cx="734" cy="602" r="1.200"/></g>
<g fill="#b5a88e"><circle cx="724" cy="613" r="2.500"/><circle cx="757" cy="637" r="3"/><circle cx="780" cy="636" r="1.800"/></g>

<!-- curved arrow -->
<path d="M471,697 C480,800 590,865 760,870 L932,868.500 L932,872 L760,873.500 C585,868 477,800 470.500,697Z" fill="#1c1c1c"/>
<path d="M947,870 L929,861 V879Z" fill="#1c1c1c"/>

<!-- NGAL renin -->
<ellipse cx="1073" cy="440" rx="59.500" ry="33.500" fill="#d9ecfb" stroke="#05608f" stroke-width="3.300"/>
<ellipse cx="1073" cy="537" rx="59.500" ry="33.500" fill="#d9ecfb" stroke="#05608f" stroke-width="3.300"/>
<text x="1043" y="448" font-size="23" textLength="61" lengthAdjust="spacingAndGlyphs">NGAL</text>
<text x="1044" y="545" font-size="23" textLength="59" lengthAdjust="spacingAndGlyphs">Renin</text>

<!-- section kidney -->
<g transform="translate(1161,393.300) scale(.1248)">
<rect x="900" y="780" width="265" height="90" rx="8" fill="#7c65ac"/>
<path d="M720,122 C880,122 1072,300 1070,450 C1068,560 1000,640 930,660 L840,680 L860,940 C950,1020 980,1100 975,1200 C960,1400 800,1500 650,1495 C400,1480 180,1200 180,920 C180,500 400,122 720,122Z" fill="#a7675c"/>
<path d="M720,150 C860,150 1000,280 1000,440 C1000,520 950,600 880,620 L780,640 L770,900 C860,920 920,1000 920,1130 C920,1300 800,1395 640,1395 C420,1380 190,1150 190,820 C190,500 400,150 720,150Z" fill="#e8937b"/>
<g class="py">
<path d="M555,290 C600,230 720,195 785,220 C775,300 720,400 670,425 C620,400 570,340 555,290Z"/>
<path d="M800,440 C810,350 830,280 860,270 C930,300 970,380 965,440 C920,470 860,490 840,500 C820,490 805,465 800,440Z"/>
<path d="M335,510 C350,430 410,340 470,315 C520,370 555,460 560,510 C540,550 500,560 470,560 C420,550 370,530 335,510Z"/>
<path d="M265,650 C265,610 290,590 310,580 C390,610 480,660 515,700 C500,740 400,775 260,785 C255,730 260,690 265,650Z"/>
<path d="M255,880 C260,850 280,830 310,828 C390,830 460,840 490,900 C480,970 420,1090 360,1125 C310,1080 260,960 255,880Z"/>
<path d="M390,1190 C430,1120 500,1040 545,1020 C590,1040 600,1150 595,1300 C530,1290 440,1240 390,1190Z"/>
<path d="M660,1080 C680,1060 700,1045 720,1045 C780,1070 850,1120 868,1170 C840,1230 780,1290 690,1310 C660,1290 655,1180 660,1080Z"/>
</g>
<path d="M900,830 C1020,880 1040,960 1040,1100 C1040,1300 1010,1350 1012,1530" fill="none" stroke="url(#u4)" stroke-width="95"/>
<path d="M900,830 C1020,880 1040,960 1040,1100 V1270" fill="none" stroke="#b98c32" stroke-width="95"/>
<path d="M1005,930 C1025,980 1035,1020 1030,1270" fill="none" stroke="#c9a050" stroke-width="60"/>
<path d="M640,420 L720,420 L740,500 L790,455 L850,505 L790,590 L780,650 L830,720 L920,800 L935,880 L880,915 L780,890 L730,960 L735,1040 L670,1060 L640,960 L595,1040 L530,1020 L560,920 L490,870 L455,830 L540,770 L500,760 L590,680 L510,570 L570,500 L660,530Z" fill="#b88a2e"/>
<g fill="#5f3422"><path d="M575,500 C610,510 640,490 655,475 C665,510 655,545 640,545 C610,545 590,525 575,500Z"/><path d="M725,430 C735,470 755,480 780,465 C770,495 745,510 730,500 C722,480 722,450 725,430Z"/><path d="M510,665 C540,650 545,620 540,600 C565,620 590,670 575,685 C550,685 530,680 510,665Z"/><path d="M490,800 C505,780 500,760 515,750 C535,750 545,775 525,795 C515,805 500,810 490,800Z"/><path d="M500,885 C530,875 555,900 560,925 C555,960 545,975 535,980 C530,940 510,920 500,885Z"/><path d="M605,1040 C610,1000 630,965 645,965 C665,985 670,1020 665,1055 C645,1045 625,1045 605,1040Z"/><path d="M735,970 C745,930 770,900 800,900 C770,920 745,950 735,970Z"/><path d="M790,625 L820,670 L860,670 L850,640 L810,610Z"/><path d="M810,560 C825,530 840,510 850,505 C850,540 840,570 820,590Z"/></g>
<g fill="none" stroke="#d93540" stroke-linecap="round"><path d="M1170,730 C1080,725 1030,715 980,700 C930,640 840,590 740,597" stroke-width="38"/><path d="M1170,730 C1060,725 950,715 810,680" stroke-width="34"/><path d="M1170,730 C1050,735 950,740 850,800" stroke-width="34"/><path d="M1170,730 L1050,730" stroke-width="88"/></g>
<ellipse cx="1172" cy="730" rx="17" ry="46" fill="#d93540"/><ellipse cx="1172" cy="730" rx="10" ry="32" fill="#8d1d2b"/>
<g fill="#a91d2c"><circle cx="783" cy="206" r="9"/><circle cx="868" cy="245" r="9"/><circle cx="453" cy="298" r="9"/><circle cx="523" cy="295" r="9"/><circle cx="319" cy="500" r="9"/><circle cx="293" cy="575" r="9"/><circle cx="251" cy="813" r="9"/><circle cx="244" cy="975" r="9"/><circle cx="370" cy="1155" r="9"/><circle cx="398" cy="1255" r="9"/><circle cx="568" cy="1331" r="9"/><circle cx="691" cy="1333" r="9"/><circle cx="876" cy="1129" r="9"/></g>
<g fill="#6a6cc4"><circle cx="798" cy="232" r="7"/><circle cx="895" cy="265" r="7"/><circle cx="480" cy="303" r="7"/><circle cx="547" cy="260" r="8"/><circle cx="332" cy="472" r="7"/><circle cx="317" cy="568" r="6"/><circle cx="255" cy="842" r="7"/><circle cx="243" cy="945" r="7"/><circle cx="344" cy="1146" r="7"/><circle cx="380" cy="1231" r="7"/><circle cx="592" cy="1317" r="7"/><circle cx="655" cy="1309" r="7"/><circle cx="878" cy="1158" r="7"/><circle cx="971" cy="457" r="7"/></g>
</g>
<path d="M1313.500,492.700 L1319,501 H1397" fill="none" stroke="#444" stroke-width="1"/>
<text x="1401" y="527" font-size="32" style="fill:#222" textLength="139" lengthAdjust="spacingAndGlyphs">Renokine</text>
<text x="1401" y="568" font-size="32" style="fill:#222" textLength="162" lengthAdjust="spacingAndGlyphs">production</text>

<!-- bottom kidney -->
<g transform="translate(943.96,749.2) scale(.12486,.1441)">
<path d="M285,825 C390,855 440,880 430,885 C380,920 335,960 330,1060 C325,1200 340,1300 340,1500 L245,1500 C235,1300 205,1150 208,1020 C210,930 240,850 285,825Z" fill="url(#u2)"/>
<path d="M285,825 C390,855 440,880 430,885 C380,920 335,960 330,1060 C328,1110 330,1160 332,1210 L215,1210 C210,1140 206,1080 208,1020 C210,930 240,850 285,825Z" fill="#cba255"/>
<path d="M310,845 C280,880 270,920 265,955 M250,1020 V1045" stroke="#e2bf6e" stroke-width="16" fill="none" stroke-linecap="round"/>
<path d="M150,703 C250,715 350,730 430,735 L440,800 L460,850 L440,880 C380,830 250,810 140,795Z" fill="#7a63ab"/>
<ellipse cx="150" cy="750" rx="17" ry="46" fill="#7a63ab"/><ellipse cx="148" cy="750" rx="8" ry="30" fill="#5a468a"/>
<path d="M95,622 C180,630 300,630 365,605 L395,605 L390,630 L460,620 L430,665 L405,680 L430,695 L420,725 C340,710 200,720 95,720Z" fill="#dd3a40"/>
<ellipse cx="100" cy="672" rx="18" ry="50" fill="#dd3a40"/><ellipse cx="101" cy="672" rx="10" ry="34" fill="#8d1d2b"/>
<path d="M620,45 C800,50 1000,180 1100,280 C1200,420 1280,650 1278,880 C1275,1100 1200,1250 1060,1370 C950,1450 800,1470 680,1455 C520,1430 370,1350 340,1190 C325,1100 340,1000 390,930 C420,890 450,870 460,860 C435,800 430,730 440,680 C445,650 460,620 480,610 C420,610 360,590 300,550 C240,500 215,430 220,370 C230,250 330,140 450,85 C510,60 570,45 620,45Z" fill="#ab6b5b" stroke="#9e5d4d" stroke-width="4"/>
<path d="M620,48 C800,50 1000,180 1100,280 C1200,420 1278,650 1276,880 C1270,1000 1230,1130 1170,1170 C1060,1270 850,1300 690,1260 C560,1230 480,1130 470,1000 C465,900 500,830 570,805 C650,790 730,790 780,810 C720,770 600,760 520,750 C470,730 450,680 470,640 C500,560 590,510 660,480 C600,510 480,520 400,490 C320,460 280,360 300,300 C330,180 450,60 620,48Z" fill="#b97969"/>
<g fill="#c9867c"><path d="M570,160 C590,120 700,120 780,140 C840,160 900,200 895,235 C850,230 800,180 700,180 C650,190 590,190 570,160Z"/><path d="M655,490 C680,450 750,435 800,450 C770,465 700,470 665,495Z"/><path d="M685,820 C730,815 780,860 770,915 C760,920 750,850 685,820Z"/><path d="M795,825 C850,850 890,900 900,935 C870,930 840,860 795,825Z"/></g>
</g>
<path d="M1068.500,794 Q1100,770 1147,782" fill="none" stroke="url(#gr)" stroke-width="4"/>
<path d="M1166,787.500 L1148,772 L1143,791.500Z" fill="#777"/>

<!-- list -->
<g font-size="32" font-weight="700" style="fill:#1c1c1c">
<text x="1213" y="802" textLength="305" lengthAdjust="spacingAndGlyphs">Renal tubular stress</text>
<text x="1213" y="843" textLength="290" lengthAdjust="spacingAndGlyphs">Splanchnic dilation</text>
<text x="1213" y="884" textLength="212" lengthAdjust="spacingAndGlyphs">Renal hypoxia</text>
<text x="1213" y="924" textLength="314" lengthAdjust="spacingAndGlyphs">Renal hypoperfusion</text>
</g>
<g fill="#1c1c1c">
<path d="M1189,776 L1199,789 H1193.500 V803 H1184.500 V789 H1179Z"/>
<path d="M1189,817 L1199,830 H1193.500 V844 H1184.500 V830 H1179Z"/>
<path d="M1189,858 L1199,871 H1193.500 V885 H1184.500 V871 H1179Z"/>
<path d="M1189,899 L1199,912 H1193.500 V926 H1184.500 V912 H1179Z"/>
</g>
</svg>
</body></html>
